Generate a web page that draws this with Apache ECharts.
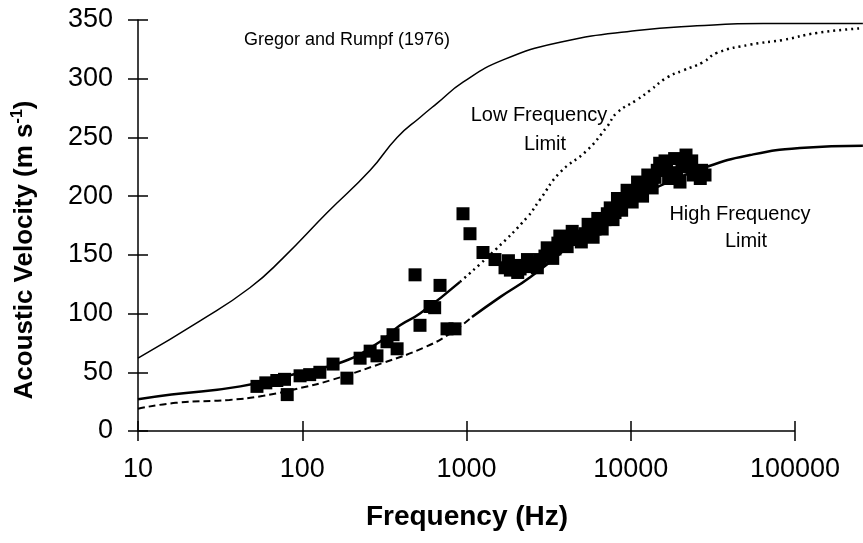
<!DOCTYPE html>
<html>
<head>
<meta charset="utf-8">
<script src="https://cdn.jsdelivr.net/npm/echarts@6/dist/echarts.min.js"></script>
<style>
  html, body { margin: 0; padding: 0; background: #fff; }
  #chart { width: 863px; height: 543px; }
</style>
</head>
<body>
<div id="chart"></div>
<script>
// x ticks (Hz) and y ticks (m/s)
const freqTicks = [10, 100, 1000, 10000, 100000];
const velTicks = [0, 50, 100, 150, 200, 250, 300, 350];
// curves run on past the last tick, to the edge of the picture
const freqEnd = 259400;

// Gregor and Rumpf (1976) curve
const gregorFreq = [10, 24, 48, 76, 142, 259, 378, 521, 661, 952, 1670, 3710, 10900, 25300, 64000, 259000];
const gregorVel = [62, 94, 122, 147, 186, 222, 250, 267, 279, 297, 316, 331, 341, 345, 347, 347];

// Low Frequency Limit curve (solid part then dotted part)
const lowFreq = [10, 16, 42, 100, 177, 297, 394, 521, 913, 1490, 2340, 2800, 3700, 5420, 7160, 8240, 10900, 13100, 16600, 20800, 27500, 33500, 53200, 84500, 136000, 259000];
const lowVel = [27, 31, 38, 50, 59, 76, 90, 100, 127, 154, 182, 197, 220, 239, 259, 271, 282, 290, 301, 307, 314, 322, 329, 333, 339, 343];
const lowSplit = 8;

// High Frequency Limit curve (dashed part then solid part)
const highFreq = [10, 17, 36, 58, 100, 147, 310, 550, 794, 1080, 1600, 2440, 4000, 6500, 13100, 29100, 53200, 107000, 259000];
const highVel = [19, 24, 26.5, 30, 37, 43, 58, 71, 83, 97, 114, 131, 155, 184, 205, 225, 235, 241, 243];
const highSplit = 9;

// measured points
const measFreq = [53, 60, 70, 78, 81, 97, 111, 128, 154, 187, 225, 259, 285, 328, 357, 378, 486, 521, 600, 640, 690, 761, 851, 952, 1050, 1260, 1491,
  1716, 1850, 1974, 2120, 2271, 2450, 2613, 2800, 3004, 3200, 3457, 3700, 3979, 4250, 4577, 4900, 5267, 5650, 6060, 6500, 6969, 7500, 8020, 8600, 9226, 9900,
  10615, 11400, 12214, 13100, 14050, 15000, 15500, 16170, 17000, 17840, 19940, 21000, 21700, 22950, 24000, 25670, 28320,
  1800, 2050, 2350, 2700, 3100, 3350, 3600, 4100, 4400, 5000, 5500, 5900, 6300, 6700, 7200, 7800, 8300, 8800, 9500, 10200,
  11000, 11800, 12700, 13500, 14500, 16500, 18500, 19000, 20500, 23500, 26500, 27000];
const measVel = [38, 41, 43, 44, 31, 47, 48, 50, 57, 45, 62, 68, 64, 76, 82, 70, 133, 90, 106, 105, 124, 87, 87, 185, 168, 152, 146,
  139, 137, 141, 138, 140, 142, 143, 146, 149, 152, 155, 166, 160, 163, 164, 166, 168, 170, 172, 175, 180, 190, 186, 193, 196, 200,
  203, 206, 210, 213, 216, 228, 222, 230, 215, 220, 212, 225, 235, 226, 218, 221, 218,
  145, 135, 146, 139, 156, 147, 160, 157, 170, 161, 176, 165, 181, 172, 185, 180, 198, 188, 205, 195,
  212, 200, 218, 207, 222, 224, 232, 218, 230, 230, 215, 222];

const FONT = "'Liberation Sans', Arial, Helvetica, sans-serif";

function pairs(xs, ys, from, to) {
  const out = [];
  for (let i = from; i < to; i++) out.push([xs[i], ys[i]]);
  return out;
}

const chart = echarts.init(document.getElementById('chart'));

const xBase = {
  type: 'log',
  logBase: 10,
  min: freqTicks[0],
  max: freqEnd,
  axisLine: { show: false },
  splitLine: { show: false }
};
const yBase = {
  type: 'value',
  min: velTicks[0],
  max: velTicks[velTicks.length - 1],
  interval: 50,
  splitLine: { show: false }
};
const tickLine = { color: '#000', width: 1.5 };

chart.setOption({
  animation: false,
  backgroundColor: '#fff',
  grid: { left: 138, right: 0, top: 20, bottom: 112 },
  xAxis: [
    Object.assign({}, xBase, {
      axisTick: { inside: false, length: 10, lineStyle: tickLine, customValues: freqTicks },
      axisLabel: {
        margin: 25, color: '#000', fontSize: 27, fontFamily: FONT,
        customValues: freqTicks,
        formatter: v => String(Math.round(v))
      }
    }),
    Object.assign({}, xBase, {
      position: 'bottom',
      axisTick: { inside: true, length: 10, lineStyle: tickLine, customValues: freqTicks },
      axisLabel: { show: false }
    })
  ],
  yAxis: [
    Object.assign({}, yBase, {
      axisLine: { show: true, lineStyle: { color: '#000', width: 1.5 } },
      axisTick: { show: true, inside: false, length: 10, lineStyle: tickLine },
      axisLabel: { margin: 25, color: '#000', fontSize: 27, fontFamily: FONT }
    }),
    Object.assign({}, yBase, {
      position: 'left',
      axisLine: { show: false },
      axisTick: { show: true, inside: true, length: 10, lineStyle: tickLine },
      axisLabel: { show: false }
    })
  ],
  graphic: [
    // axis titles
    { type: 'text', x: 467, y: 517, style: { text: 'Frequency (Hz)', textAlign: 'center', textVerticalAlign: 'middle', fill: '#000', fontSize: 28, fontWeight: 'bold', fontFamily: FONT } },
    { type: 'text', x: 25, y: 250, rotation: Math.PI / 2, style: {
        text: '{t|Acoustic Velocity (m s}{s|-1}{t|)}', textAlign: 'center', textVerticalAlign: 'middle',
        rich: {
          t: { fill: '#000', fontSize: 26, fontWeight: 'bold', fontFamily: FONT, lineHeight: 30 },
          s: { fill: '#000', fontSize: 16, fontWeight: 'bold', fontFamily: FONT, verticalAlign: 'top', lineHeight: 30 }
        }
      } },
    // curve labels
    { type: 'text', x: 347, y: 40, style: { text: 'Gregor and Rumpf (1976)', textAlign: 'center', textVerticalAlign: 'middle', fill: '#000', fontSize: 18, fontFamily: FONT } },
    { type: 'text', x: 539, y: 115, style: { text: 'Low Frequency', textAlign: 'center', textVerticalAlign: 'middle', fill: '#000', fontSize: 20, fontFamily: FONT } },
    { type: 'text', x: 545, y: 144, style: { text: 'Limit', textAlign: 'center', textVerticalAlign: 'middle', fill: '#000', fontSize: 20, fontFamily: FONT } },
    { type: 'text', x: 740, y: 214, style: { text: 'High Frequency', textAlign: 'center', textVerticalAlign: 'middle', fill: '#000', fontSize: 20, fontFamily: FONT } },
    { type: 'text', x: 746, y: 241, style: { text: 'Limit', textAlign: 'center', textVerticalAlign: 'middle', fill: '#000', fontSize: 20, fontFamily: FONT } }
  ],
  series: [
    {
      name: 'Gregor and Rumpf', type: 'line', showSymbol: false, smooth: true,
      data: pairs(gregorFreq, gregorVel, 0, gregorFreq.length),
      lineStyle: { color: '#000', width: 1.5 }
    },
    {
      name: 'Low Frequency Limit', type: 'line', showSymbol: false, smooth: true,
      data: pairs(lowFreq, lowVel, 0, lowSplit + 1),
      lineStyle: { color: '#000', width: 2.5 }
    },
    {
      name: 'Low Frequency Limit', type: 'line', showSymbol: false, smooth: true,
      data: pairs(lowFreq, lowVel, lowSplit, lowFreq.length),
      lineStyle: { color: '#000', width: 2.5, type: [2, 4] }
    },
    {
      name: 'High Frequency Limit', type: 'line', showSymbol: false, smooth: true,
      data: pairs(highFreq, highVel, 0, highSplit + 1),
      lineStyle: { color: '#000', width: 2, type: [7, 4] }
    },
    {
      name: 'High Frequency Limit', type: 'line', showSymbol: false, smooth: true,
      data: pairs(highFreq, highVel, highSplit, highFreq.length),
      lineStyle: { color: '#000', width: 2.5 }
    },
    {
      name: 'Measured', type: 'scatter', symbol: 'rect', symbolSize: 13,
      data: pairs(measFreq, measVel, 0, measFreq.length),
      itemStyle: { color: '#000', opacity: 1 },
      // x axis line, from the first to the last tick only
      markLine: {
        silent: true, symbol: 'none', label: { show: false },
        lineStyle: { color: '#000', width: 1.5, type: 'solid' },
        data: [[{ coord: [freqTicks[0], velTicks[0]] }, { coord: [freqTicks[freqTicks.length - 1], velTicks[0]] }]]
      }
    }
  ]
});
</script>
</body>
</html>
